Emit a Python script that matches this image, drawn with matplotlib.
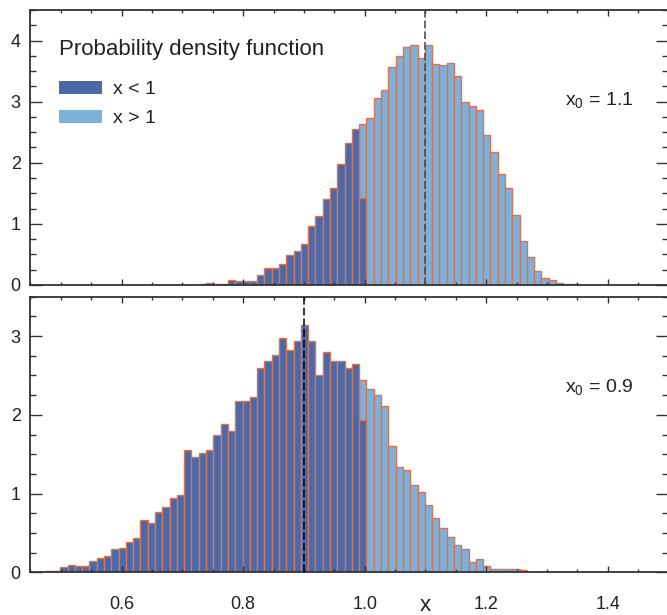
import numpy as np
import matplotlib
matplotlib.use('Agg')
import matplotlib.pyplot as plt
from matplotlib.ticker import MultipleLocator
from matplotlib.transforms import blended_transform_factory

plt.rcParams['font.family'] = ['Liberation Sans', 'DejaVu Sans']
plt.rcParams['mathtext.fontset'] = 'custom'
plt.rcParams['mathtext.rm'] = 'Liberation Sans'

BIN_WIDTH = 0.012

# upper panel, x0 = 1.1
top_x0 = 1.1
top_lo_start = 0.703
top_lo = [0.0, 0.0, 0.01, 0.03, 0.02, 0.015, 0.075, 0.07, 0.06, 0.07,
          0.16, 0.28, 0.28, 0.34, 0.49, 0.55, 0.67, 0.97, 1.13, 1.40,
          1.59, 1.98, 2.33, 2.55, 1.43]
top_hi_start = 0.991
top_hi = [2.63, 2.74, 3.06, 3.19, 3.57, 3.74, 3.90, 3.93, 3.71, 3.92,
          3.61, 3.60, 3.63, 3.42, 2.99, 2.93, 2.87, 2.45, 2.18, 1.81,
          1.58, 1.15, 0.72, 0.46, 0.23, 0.11, 0.08, 0.04, 0.01, 0.01]

# lower panel, x0 = 0.9
bot_x0 = 0.9
bot_lo_start = 0.475
bot_lo = [0.017, 0.017, 0.064, 0.097, 0.085, 0.085, 0.148, 0.178, 0.212, 0.30,
          0.31, 0.39, 0.44, 0.66, 0.63, 0.76, 0.83, 0.95, 0.98, 1.55,
          1.47, 1.51, 1.55, 1.75, 1.89, 1.80, 2.17, 2.17, 2.23, 2.59,
          2.69, 2.76, 2.98, 2.82, 2.94, 3.14, 2.94, 2.50, 2.80, 2.69,
          2.69, 2.60, 2.64, 1.94]
bot_hi_start = 0.991
bot_hi = [2.44, 2.33, 2.25, 2.11, 1.61, 1.34, 1.30, 1.11, 1.02, 0.86,
          0.69, 0.56, 0.45, 0.35, 0.29, 0.127, 0.165, 0.08, 0.047, 0.047,
          0.04, 0.04, 0.034]

DARK = '#4b68a9'
LIGHT = '#7fb1d8'
EDGE = '#d3755a'
INK = '#222222'


def draw_panel(ax, lo_start, lo, hi_start, hi, x0, ymax, dash_color):
    hi_left = hi_start + BIN_WIDTH * np.arange(len(hi))
    lo_left = lo_start + BIN_WIDTH * np.arange(len(lo))
    bars_hi = ax.bar(hi_left, hi, width=BIN_WIDTH, align='edge', color=LIGHT,
                     edgecolor=EDGE, linewidth=1.0, label='x > 1')
    bars_lo = ax.bar(lo_left, lo, width=BIN_WIDTH, align='edge', color=DARK,
                     edgecolor=EDGE, linewidth=1.0, label='x < 1')
    ax.axvline(x0, color=dash_color, linewidth=1.1, dashes=(5, 2), zorder=3)

    ax.set_xlim(0.45, 1.5)
    ax.set_ylim(0, ymax)
    ax.xaxis.set_major_locator(MultipleLocator(0.2))
    ax.xaxis.set_minor_locator(MultipleLocator(0.05))
    ax.yaxis.set_major_locator(MultipleLocator(1))
    ax.yaxis.set_minor_locator(MultipleLocator(0.25))
    ax.tick_params(which='both', direction='in', top=True, right=True,
                   colors='#333333', labelcolor=INK, labelsize=13, width=1)
    ax.tick_params(axis='y', which='major', length=8.6, pad=7)
    ax.tick_params(axis='y', which='minor', length=4.3)
    ax.tick_params(axis='x', which='major', length=4, pad=17)
    ax.tick_params(axis='x', which='minor', length=2.5)
    for sp in ax.spines.values():
        sp.set_color('#333333')
        sp.set_linewidth(1.3)

    ax.text(0.838, 0.67, 'x$_\\mathrm{0}$ = %.1f' % x0, transform=ax.transAxes,
            fontsize=14, color=INK, va='center', ha='left')
    return bars_lo, bars_hi


fig = plt.figure(figsize=(6.67, 6.15), dpi=100)
ax_top = fig.add_axes([0.0457, 0.5366, 0.9565, 0.4472])
ax_bot = fig.add_axes([0.0457, 0.0694, 0.9565, 0.4481])

bars_lo, bars_hi = draw_panel(ax_top, top_lo_start, top_lo, top_hi_start, top_hi,
                              top_x0, 4.5, '#444444')
draw_panel(ax_bot, bot_lo_start, bot_lo, bot_hi_start, bot_hi, bot_x0, 3.5, 'black')

ax_top.tick_params(axis='x', labelbottom=False)

ax_top.text(0.0447, 0.836, 'Probability density function', transform=ax_top.transAxes,
            fontsize=16, color=INK, va='baseline', ha='left')
ax_top.legend(handles=[bars_lo.patches[0], bars_hi.patches[0]], labels=['x < 1', 'x > 1'],
              loc='upper left', bbox_to_anchor=(0.0447, 0.74), borderaxespad=0,
              borderpad=0, frameon=False, fontsize=14, labelcolor=INK,
              handlelength=2.2, handleheight=0.6, handletextpad=0.57, labelspacing=0.6)
for h in ax_top.get_legend().legend_handles:
    h.set_edgecolor('none')

trans = blended_transform_factory(ax_bot.transData, ax_bot.transAxes)
ax_bot.text(1.1, -0.14, 'x', transform=trans, fontsize=16, color=INK,
            ha='center', va='baseline')

fig.savefig('out.png', dpi=100)
